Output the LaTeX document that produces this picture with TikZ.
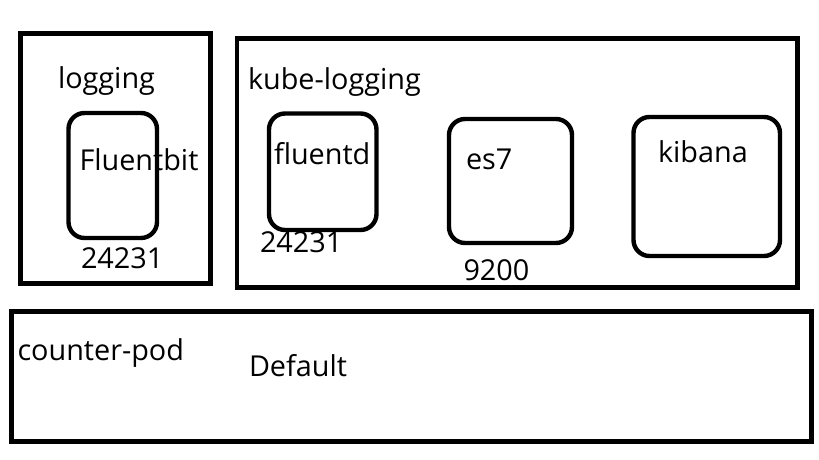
\documentclass[tikz,border=0pt]{standalone}
\usepackage{fontspec}
\setmainfont{Open Sans}
\begin{document}
\begin{tikzpicture}[x=1pt,y=-1pt,
  frame/.style={draw=black,line width=4.6pt,inner sep=0pt,outer sep=0pt,rectangle},
  pod/.style={draw=black,line width=4.4pt,inner sep=0pt,outer sep=0pt,rounded corners=16pt},
  lbl/.style={anchor=base west,inner sep=0pt,outer sep=0pt,font=\fontsize{28.8}{30}\selectfont}]
\useasboundingbox[fill=white] (0,0) rectangle (819,460);
% namespace frames
\node[frame,minimum width=189.8pt,minimum height=250pt] (logging) at (115.6,158.5) {};
\node[frame,minimum width=560.5pt,minimum height=249pt] (kube) at (517.25,163) {};
\node[frame,minimum width=800pt,minimum height=130pt] (default) at (411.7,376.7) {};
% pods
\node[pod,minimum width=88.5pt,minimum height=125pt] (fbit) at (112.75,175.5) {};
\node[pod,minimum width=107.5pt,minimum height=116.5pt] (fluentd) at (322.75,171.75) {};
\node[pod,minimum width=123pt,minimum height=124pt] (es7) at (510.5,181) {};
\node[pod,minimum width=146.5pt,minimum height=139pt] (kibana) at (706.75,186.5) {};
% labels
\node[lbl] (tlogging) at (58,88.3) {logging};
\node[lbl] (tfbit) at (79.5,170.7) {Fluentbit};
\node[lbl] (pfbit) at (81,268.3) {24231};
\node[lbl] (tkube) at (248,89.3) {kube-logging};
\node[lbl] (tfluentd) at (274,164) {fluentd};
\node[lbl] (pfluentd) at (260,252.7) {24231};
\node[lbl] (tes7) at (466,169.3) {es7};
\node[lbl] (pes7) at (463.5,280.7) {9200};
\node[lbl] (tkibana) at (658,162.3) {kibana};
\node[lbl] (tcounter) at (17.5,360) {counter-pod};
\node[lbl] (tdefault) at (249,376.7) {Default};
\end{tikzpicture}
\end{document}
